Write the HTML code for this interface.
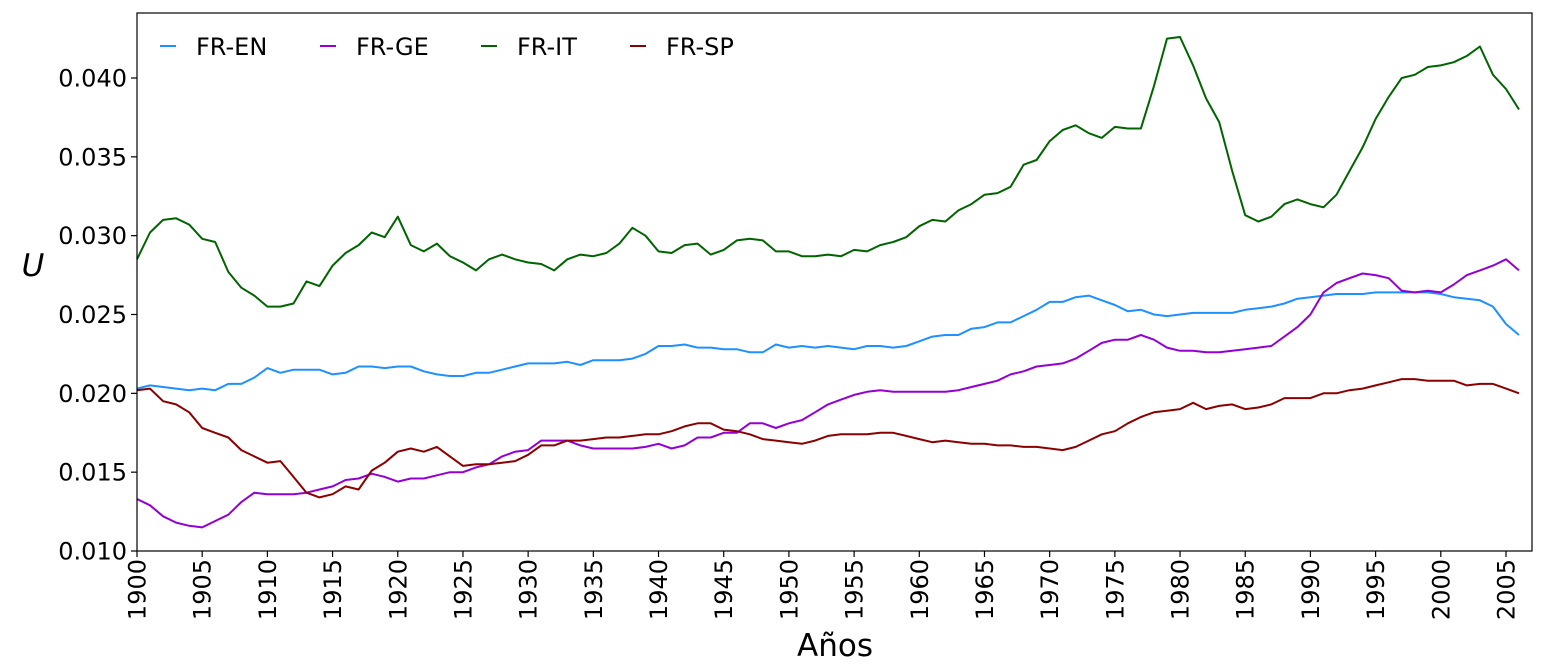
<!DOCTYPE html>
<html><head><meta charset="utf-8">
<style>
html,body{margin:0;padding:0;background:#fff;}
svg{display:block;font-family:"DejaVu Sans","Liberation Sans",sans-serif;}
</style></head>
<body>
<svg id="chart" width="1545" height="672" viewBox="0 0 1545 672"></svg>
<script>
const years = [];
for (let y = 1900; y <= 2006; y++) years.push(y);
const seriesNames = ["FR-EN","FR-GE","FR-IT","FR-SP"];
const seriesColors = ["#1e90ff","#9400d3","#006400","#8b0000"];
const frEN = [0.0203,0.0205,0.0204,0.0203,0.0202,0.0203,0.0202,0.0206,0.0206,0.0210,0.0216,0.0213,0.0215,0.0215,0.0215,0.0212,0.0213,0.0217,0.0217,0.0216,0.0217,0.0217,0.0214,0.0212,0.0211,0.0211,0.0213,0.0213,0.0215,0.0217,0.0219,0.0219,0.0219,0.0220,0.0218,0.0221,0.0221,0.0221,0.0222,0.0225,0.0230,0.0230,0.0231,0.0229,0.0229,0.0228,0.0228,0.0226,0.0226,0.0231,0.0229,0.0230,0.0229,0.0230,0.0229,0.0228,0.0230,0.0230,0.0229,0.0230,0.0233,0.0236,0.0237,0.0237,0.0241,0.0242,0.0245,0.0245,0.0249,0.0253,0.0258,0.0258,0.0261,0.0262,0.0259,0.0256,0.0252,0.0253,0.0250,0.0249,0.0250,0.0251,0.0251,0.0251,0.0251,0.0253,0.0254,0.0255,0.0257,0.0260,0.0261,0.0262,0.0263,0.0263,0.0263,0.0264,0.0264,0.0264,0.0264,0.0264,0.0263,0.0261,0.0260,0.0259,0.0255,0.0244,0.0237];
const frGE = [0.0133,0.0129,0.0122,0.0118,0.0116,0.0115,0.0119,0.0123,0.0131,0.0137,0.0136,0.0136,0.0136,0.0137,0.0139,0.0141,0.0145,0.0146,0.0149,0.0147,0.0144,0.0146,0.0146,0.0148,0.0150,0.0150,0.0153,0.0155,0.0160,0.0163,0.0164,0.0170,0.0170,0.0170,0.0167,0.0165,0.0165,0.0165,0.0165,0.0166,0.0168,0.0165,0.0167,0.0172,0.0172,0.0175,0.0175,0.0181,0.0181,0.0178,0.0181,0.0183,0.0188,0.0193,0.0196,0.0199,0.0201,0.0202,0.0201,0.0201,0.0201,0.0201,0.0201,0.0202,0.0204,0.0206,0.0208,0.0212,0.0214,0.0217,0.0218,0.0219,0.0222,0.0227,0.0232,0.0234,0.0234,0.0237,0.0234,0.0229,0.0227,0.0227,0.0226,0.0226,0.0227,0.0228,0.0229,0.0230,0.0236,0.0242,0.0250,0.0264,0.0270,0.0273,0.0276,0.0275,0.0273,0.0265,0.0264,0.0265,0.0264,0.0269,0.0275,0.0278,0.0281,0.0285,0.0278];
const frIT = [0.0285,0.0302,0.0310,0.0311,0.0307,0.0298,0.0296,0.0277,0.0267,0.0262,0.0255,0.0255,0.0257,0.0271,0.0268,0.0281,0.0289,0.0294,0.0302,0.0299,0.0312,0.0294,0.0290,0.0295,0.0287,0.0283,0.0278,0.0285,0.0288,0.0285,0.0283,0.0282,0.0278,0.0285,0.0288,0.0287,0.0289,0.0295,0.0305,0.0300,0.0290,0.0289,0.0294,0.0295,0.0288,0.0291,0.0297,0.0298,0.0297,0.0290,0.0290,0.0287,0.0287,0.0288,0.0287,0.0291,0.0290,0.0294,0.0296,0.0299,0.0306,0.0310,0.0309,0.0316,0.0320,0.0326,0.0327,0.0331,0.0345,0.0348,0.0360,0.0367,0.0370,0.0365,0.0362,0.0369,0.0368,0.0368,0.0395,0.0425,0.0426,0.0408,0.0387,0.0372,0.0341,0.0313,0.0309,0.0312,0.0320,0.0323,0.0320,0.0318,0.0326,0.0341,0.0356,0.0374,0.0388,0.0400,0.0402,0.0407,0.0408,0.0410,0.0414,0.0420,0.0402,0.0393,0.0380];
const frSP = [0.0202,0.0203,0.0195,0.0193,0.0188,0.0178,0.0175,0.0172,0.0164,0.0160,0.0156,0.0157,0.0147,0.0137,0.0134,0.0136,0.0141,0.0139,0.0151,0.0156,0.0163,0.0165,0.0163,0.0166,0.0160,0.0154,0.0155,0.0155,0.0156,0.0157,0.0161,0.0167,0.0167,0.0170,0.0170,0.0171,0.0172,0.0172,0.0173,0.0174,0.0174,0.0176,0.0179,0.0181,0.0181,0.0177,0.0176,0.0174,0.0171,0.0170,0.0169,0.0168,0.0170,0.0173,0.0174,0.0174,0.0174,0.0175,0.0175,0.0173,0.0171,0.0169,0.0170,0.0169,0.0168,0.0168,0.0167,0.0167,0.0166,0.0166,0.0165,0.0164,0.0166,0.0170,0.0174,0.0176,0.0181,0.0185,0.0188,0.0189,0.0190,0.0194,0.0190,0.0192,0.0193,0.0190,0.0191,0.0193,0.0197,0.0197,0.0197,0.0200,0.0200,0.0202,0.0203,0.0205,0.0207,0.0209,0.0209,0.0208,0.0208,0.0208,0.0205,0.0206,0.0206,0.0203,0.0200];
const yTicks = [0.010,0.015,0.020,0.025,0.030,0.035,0.040];
const xTicks = [1900,1905,1910,1915,1920,1925,1930,1935,1940,1945,1950,1955,1960,1965,1970,1975,1980,1985,1990,1995,2000,2005];

const NS = "http://www.w3.org/2000/svg";
const svg = document.getElementById("chart");
const L = 137, R = 1532, T = 13, B = 551;
const xScale = v => 137 + (v - 1900) * (1506 - 137) / 105;
const yScale = v => 551 - (v - 0.010) * (473 / 0.030);
function mk(tag, attrs, parent) {
  const e = document.createElementNS(NS, tag);
  for (const k in attrs) e.setAttribute(k, attrs[k]);
  (parent || svg).appendChild(e);
  return e;
}
const allSeries = [frEN, frGE, frIT, frSP];
const lines = mk("g", {});


allSeries.forEach((s, i) => {
  const d = s.map((v, j) => (j ? "L" : "M") + xScale(years[j]).toFixed(1) + "," + yScale(v).toFixed(1)).join("");
  const p = mk("path", {d: d, fill: "none", stroke: seriesColors[i], "stroke-width": 2, "stroke-linejoin": "round"}, lines);
  
  
});
const frame = mk("rect", {x: L, y: T, width: R - L, height: B - T, fill: "none", stroke: "#000", "stroke-width": 1.2});


yTicks.forEach(v => {
  const y = yScale(v);
  mk("line", {x1: L - 6, x2: L, y1: y, y2: y, stroke: "#000", "stroke-width": 1.2});
  const t = mk("text", {x: L - 10, y: y + 8.5, "text-anchor": "end", "font-size": 24});
  t.textContent = v.toFixed(3);
  
  
});
xTicks.forEach(v => {
  const x = xScale(v);
  mk("line", {x1: x, x2: x, y1: B, y2: B + 6, stroke: "#000", "stroke-width": 1.2});
  const t = mk("text", {x: 0, y: 0, "text-anchor": "end", "font-size": 24, transform: "translate(" + (x + 8.5) + "," + (B + 8) + ") rotate(-90)"});
  t.textContent = v;
  
  
});
const yt = mk("text", {x: 33, y: 276, "text-anchor": "middle", "font-size": 31, "font-style": "italic"});
yt.textContent = "U";


const xt = mk("text", {x: 835, y: 656, "text-anchor": "middle", "font-size": 31});
xt.textContent = "Años";


const legendX = [160, 320, 481, 630];
const lg = mk("g", {});


seriesNames.forEach((n, i) => {
  const g = mk("g", {}, lg);
  
  
  mk("line", {x1: legendX[i], x2: legendX[i] + 16, y1: 46, y2: 46, stroke: seriesColors[i], "stroke-width": 2}, g);
  const t = mk("text", {x: legendX[i] + 36, y: 55, "font-size": 24}, g);
  t.textContent = n;
});
</script>
</body></html>
